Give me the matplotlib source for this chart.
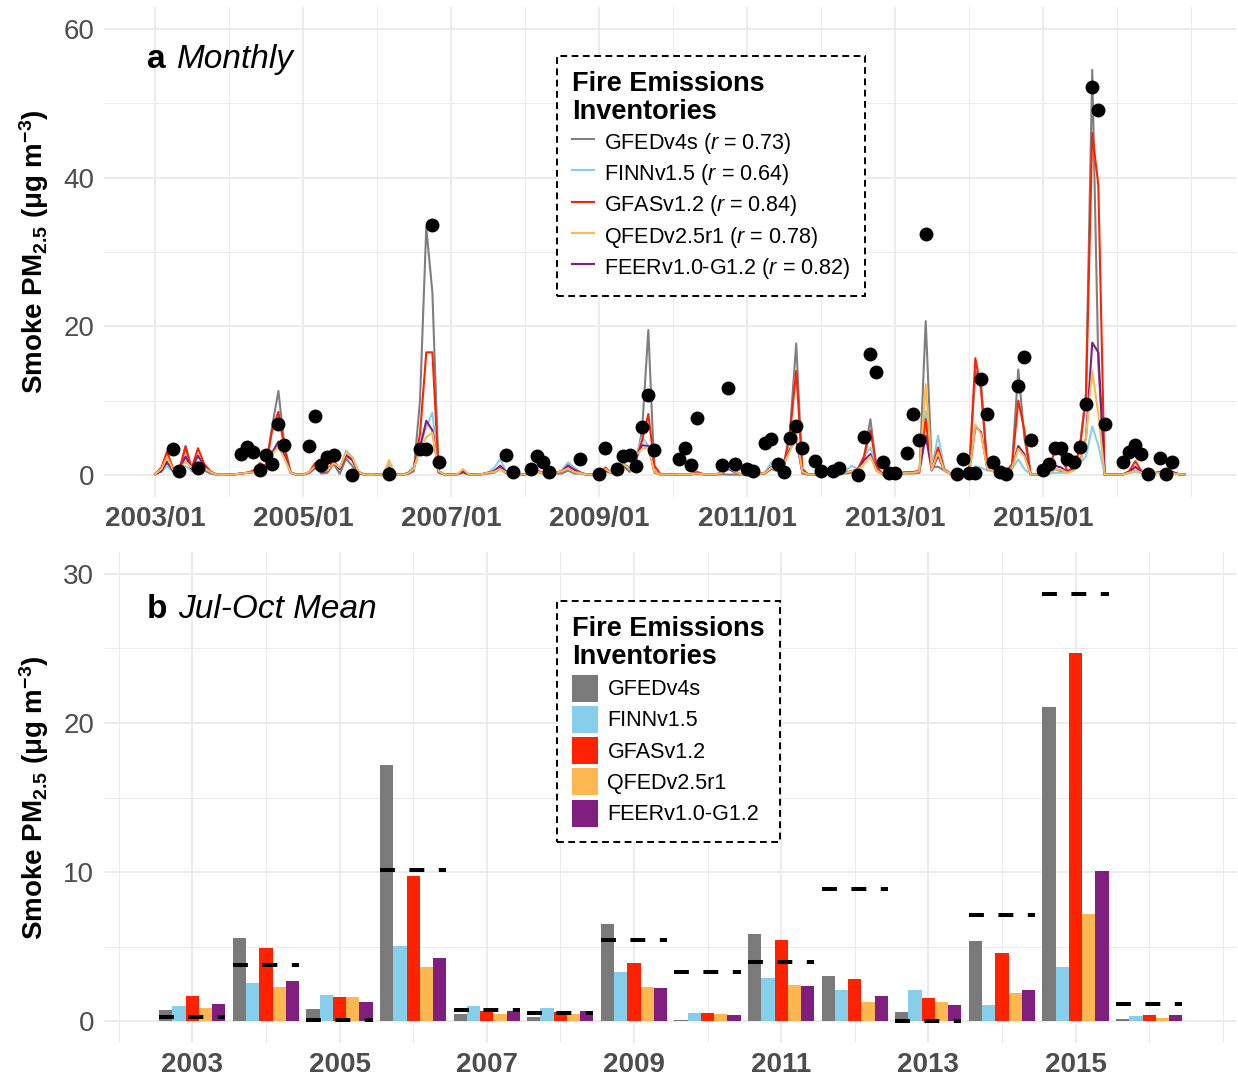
import numpy as np
import pandas as pd
import matplotlib
matplotlib.use('Agg')
import matplotlib.pyplot as plt
import matplotlib.dates as mdates

plt.rcParams['font.family'] = ['Liberation Sans', 'DejaVu Sans']
plt.rcParams['mathtext.fontset'] = 'custom'
plt.rcParams['mathtext.rm'] = 'Liberation Sans'
plt.rcParams['mathtext.it'] = 'Liberation Sans:italic'
plt.rcParams['mathtext.bf'] = 'Liberation Sans:bold'

# ---- monthly smoke PM2.5 (ug/m3), Jan 2003 .. Dec 2016, one row per year ----
gfed = [
    0.1, 0.5, 1.6, 0.5, 0.6, 3.9, 0.5, 1.6, 0.6, 0.2, 0.05, 0.02,
    0.05, 0.1, 0.2, 0.3, 0.4, 0.5, 1.0, 6.5, 11.3, 4.0, 0.3, 0.05,
    0.05, 0.3, 1.0, 0.2, 0.3, 1.5, 0.15, 2.2, 1.2, 0.2, 0.05, 0.02,
    0.05, 0.1, 0.8, 0.05, 0.05, 0.1, 0.5, 10.0, 33.3, 24.6, 0.3, 0.05,
    0.05, 0.1, 0.3, 0.05, 0.05, 0.1, 0.2, 0.3, 0.8, 0.2, 0.1, 0.1,
    0.05, 0.2, 0.4, 0.2, 0.1, 0.2, 0.2, 0.6, 0.2, 0.2, 0.05, 0.05,
    0.05, 0.5, 0.3, 0.3, 1.2, 0.4, 1.5, 6.0, 19.5, 0.3, 0.05, 0.05,
    0.05, 0.1, 0.1, 0.1, 0.1, 0.1, 0.05, 0.05, 0.1, 0.05, 0.05, 0.05,
    0.05, 0.05, 0.1, 0.2, 0.8, 0.5, 1.0, 6.0, 17.7, 0.2, 0.05, 0.05,
    0.1, 0.15, 0.2, 0.3, 0.2, 0.3, 0.4, 2.5, 7.5, 1.0, 0.1, 0.05,
    0.1, 0.2, 0.2, 0.2, 0.3, 20.7, 1.1, 1.1, 0.6, 0.2, 0.05, 0.05,
    0.05, 14.0, 12.3, 0.8, 0.6, 0.5, 0.4, 1.5, 14.2, 5.0, 0.1, 0.05,
    0.05, 0.2, 0.8, 0.5, 0.3, 0.8, 3.5, 11.0, 54.5, 15.0, 0.05, 0.05,
    0.05, 0.1, 0.3, 0.5, 0.3, 0.1, 0.2, 0.4, 0.3, 0.2, 0.1, 0.05,
]
finn = [
    0.1, 0.4, 1.2, 0.4, 0.5, 1.2, 0.6, 1.8, 1.2, 0.5, 0.05, 0.02,
    0.05, 0.1, 0.2, 0.3, 0.4, 0.6, 1.0, 3.0, 3.9, 3.0, 0.3, 0.05,
    0.05, 0.4, 1.0, 0.4, 0.5, 1.7, 0.8, 3.3, 2.4, 0.4, 0.05, 0.02,
    0.05, 0.1, 1.5, 0.05, 0.05, 0.3, 1.2, 4.0, 6.4, 8.4, 0.6, 0.05,
    0.05, 0.1, 0.4, 0.05, 0.05, 0.1, 0.3, 0.9, 2.15, 0.4, 0.1, 0.1,
    0.05, 0.3, 0.5, 0.2, 0.1, 0.3, 0.6, 1.7, 1.0, 0.35, 0.05, 0.05,
    0.05, 0.6, 0.3, 0.5, 1.7, 0.8, 2.4, 5.1, 3.9, 0.4, 0.05, 0.05,
    0.05, 0.1, 0.1, 0.1, 0.2, 0.1, 0.1, 0.1, 0.3, 1.0, 0.5, 0.05,
    0.05, 0.05, 0.1, 0.4, 1.7, 0.8, 1.5, 5.0, 4.8, 0.3, 0.05, 0.05,
    0.1, 0.15, 0.2, 0.3, 0.5, 1.25, 0.8, 2.5, 3.7, 0.8, 0.1, 0.05,
    0.2, 0.3, 0.3, 0.3, 0.5, 8.6, 0.8, 5.3, 0.9, 0.2, 0.05, 0.05,
    0.05, 1.2, 1.0, 0.6, 0.5, 0.5, 0.4, 0.8, 2.1, 0.8, 0.1, 0.05,
    0.05, 0.2, 0.3, 0.3, 0.3, 0.6, 1.5, 2.5, 6.5, 4.0, 0.05, 0.05,
    0.05, 0.1, 0.3, 0.4, 0.3, 0.1, 0.3, 0.45, 0.4, 0.3, 0.1, 0.05,
]
gfas = [
    0.1, 1.0, 3.1, 0.8, 0.7, 3.8, 0.9, 3.6, 1.5, 0.5, 0.05, 0.02,
    0.05, 0.1, 0.2, 0.3, 0.6, 1.6, 1.2, 6.0, 8.5, 3.5, 0.3, 0.05,
    0.05, 0.4, 1.6, 0.4, 0.6, 1.9, 0.8, 2.6, 2.0, 0.4, 0.05, 0.02,
    0.05, 0.1, 1.0, 0.05, 0.05, 0.2, 0.8, 5.5, 16.5, 16.5, 0.5, 0.05,
    0.05, 0.1, 0.4, 0.05, 0.05, 0.1, 0.3, 0.5, 1.0, 0.4, 0.1, 0.1,
    0.05, 0.5, 0.6, 0.3, 0.1, 0.3, 0.5, 1.0, 0.7, 0.3, 0.05, 0.05,
    0.05, 1.0, 0.3, 0.5, 1.5, 0.8, 2.0, 4.6, 8.2, 1.25, 0.05, 0.05,
    0.05, 0.1, 0.1, 0.1, 0.4, 0.1, 0.1, 0.1, 0.3, 0.9, 0.6, 0.05,
    0.05, 0.05, 0.1, 0.3, 1.0, 0.8, 1.3, 5.5, 14.0, 0.8, 0.05, 0.05,
    0.1, 0.15, 0.2, 0.3, 0.3, 0.5, 0.8, 2.5, 6.0, 1.2, 0.1, 0.05,
    0.3, 0.3, 0.4, 0.4, 0.6, 7.5, 0.7, 3.7, 0.7, 0.2, 0.05, 0.05,
    0.05, 15.7, 11.5, 1.0, 0.8, 0.7, 0.6, 1.2, 10.0, 6.0, 0.1, 0.05,
    0.05, 0.8, 3.4, 2.6, 0.5, 1.0, 3.5, 10.5, 46.0, 39.0, 0.05, 0.05,
    0.05, 0.1, 0.5, 1.85, 0.5, 0.1, 0.2, 0.4, 0.6, 0.4, 0.1, 0.05,
]
qfed = [
    0.1, 0.8, 2.4, 0.7, 0.7, 1.8, 1.0, 1.6, 1.0, 0.4, 0.05, 0.02,
    0.05, 0.1, 0.2, 0.3, 0.4, 0.6, 1.2, 2.8, 3.8, 2.2, 0.3, 0.05,
    0.05, 0.4, 1.2, 0.5, 0.6, 1.6, 1.0, 3.0, 2.4, 0.4, 0.05, 0.02,
    0.05, 0.1, 2.0, 0.05, 0.05, 0.2, 0.8, 3.5, 5.1, 5.7, 0.5, 0.05,
    0.05, 0.1, 0.8, 0.05, 0.05, 0.1, 0.3, 0.4, 0.8, 0.3, 0.1, 0.1,
    0.05, 0.3, 0.5, 0.2, 0.1, 0.3, 0.5, 0.9, 0.4, 0.25, 0.05, 0.05,
    0.05, 0.8, 0.3, 0.5, 1.5, 0.8, 2.6, 3.5, 3.7, 0.4, 0.05, 0.05,
    0.05, 0.1, 0.1, 0.1, 0.2, 0.1, 0.1, 0.1, 0.3, 1.0, 0.5, 0.05,
    0.05, 0.05, 0.1, 0.3, 1.0, 0.7, 1.5, 3.2, 5.5, 0.4, 0.05, 0.05,
    0.1, 0.15, 0.2, 0.3, 0.3, 0.5, 0.7, 1.5, 2.5, 0.6, 0.1, 0.05,
    0.2, 0.2, 0.3, 0.3, 0.5, 12.2, 0.7, 3.0, 0.6, 0.2, 0.05, 0.05,
    0.05, 6.8, 5.5, 0.8, 0.6, 0.5, 0.5, 1.0, 3.5, 2.5, 0.1, 0.05,
    0.05, 0.3, 0.8, 0.7, 0.3, 0.6, 1.5, 5.0, 14.0, 8.2, 0.05, 0.05,
    0.05, 0.1, 0.3, 0.6, 0.3, 0.1, 0.2, 0.3, 0.3, 0.2, 0.1, 0.05,
]
feer = [
    0.1, 0.5, 1.8, 0.5, 0.6, 2.5, 0.8, 2.6, 1.2, 0.4, 0.05, 0.02,
    0.05, 0.1, 0.2, 0.3, 0.4, 0.7, 1.0, 3.0, 4.5, 2.5, 0.3, 0.05,
    0.05, 0.3, 1.0, 0.4, 0.5, 1.6, 0.8, 2.8, 2.0, 0.4, 0.05, 0.02,
    0.05, 0.1, 1.0, 0.05, 0.05, 0.2, 0.8, 3.7, 7.3, 6.0, 0.4, 0.05,
    0.05, 0.1, 0.5, 0.05, 0.05, 0.1, 0.3, 0.5, 1.25, 0.4, 0.1, 0.1,
    0.05, 0.3, 0.5, 0.2, 0.1, 0.3, 0.5, 1.3, 0.7, 0.3, 0.05, 0.05,
    0.05, 0.6, 0.3, 0.4, 1.5, 0.8, 2.2, 4.0, 3.9, 0.4, 0.05, 0.05,
    0.05, 0.1, 0.1, 0.1, 0.2, 0.1, 0.1, 0.1, 0.3, 0.8, 0.4, 0.05,
    0.05, 0.05, 0.1, 0.3, 1.1, 0.7, 1.4, 3.5, 4.8, 0.3, 0.05, 0.05,
    0.1, 0.15, 0.2, 0.3, 0.3, 0.5, 0.7, 2.0, 2.8, 0.6, 0.1, 0.05,
    0.2, 0.2, 0.3, 0.3, 0.5, 5.3, 0.6, 2.6, 0.6, 0.2, 0.05, 0.05,
    0.05, 6.5, 5.8, 0.8, 0.7, 0.5, 0.5, 1.0, 3.9, 2.8, 0.1, 0.05,
    0.05, 0.4, 1.25, 1.0, 0.4, 0.7, 1.5, 5.0, 17.8, 16.5, 0.05, 0.05,
    0.05, 0.1, 0.4, 1.1, 0.4, 0.1, 0.2, 0.4, 0.7, 0.4, 0.1, 0.05,
]

# observed monthly smoke PM2.5 (black dots)
obs_month = [
    '2003-04', '2003-05', '2003-08',
    '2004-03', '2004-04', '2004-05', '2004-06', '2004-07', '2004-08', '2004-09', '2004-10',
    '2005-02', '2005-03', '2005-04', '2005-05', '2005-06', '2005-09',
    '2006-03', '2006-08', '2006-09', '2006-10', '2006-11',
    '2007-10', '2007-11',
    '2008-02', '2008-03', '2008-04', '2008-05', '2008-10',
    '2009-01', '2009-02', '2009-04', '2009-05', '2009-06', '2009-07', '2009-08', '2009-09', '2009-10',
    '2010-02', '2010-03', '2010-04', '2010-05', '2010-09', '2010-10', '2010-11',
    '2011-01', '2011-02', '2011-04', '2011-05', '2011-06', '2011-07', '2011-08', '2011-09', '2011-10', '2011-12',
    '2012-01', '2012-03', '2012-04', '2012-07', '2012-08', '2012-09', '2012-10', '2012-11', '2012-12',
    '2013-01', '2013-03', '2013-04', '2013-05', '2013-06', '2013-11', '2013-12',
    '2014-01', '2014-02', '2014-03', '2014-04', '2014-05', '2014-06', '2014-07', '2014-09', '2014-10', '2014-11',
    '2015-01', '2015-02', '2015-03', '2015-04', '2015-05', '2015-06', '2015-07', '2015-08', '2015-09', '2015-10', '2015-11',
    '2016-02', '2016-03', '2016-04', '2016-05', '2016-06', '2016-08', '2016-09', '2016-10',
]
obs_value = [
    3.5, 0.6, 0.95,
    2.85, 3.75, 3.1, 0.72, 2.65, 1.47, 6.9, 4.0,
    3.9, 8.0, 1.3, 2.45, 2.65, 0.05,
    0.15, 3.45, 3.55, 33.6, 1.7,
    2.7, 0.4,
    0.76, 2.5, 1.7, 0.4, 2.1,
    0.12, 3.6, 0.85, 2.6, 2.65, 1.25, 6.4, 10.7, 3.3,
    2.1, 3.6, 1.35, 7.7, 1.35, 11.66, 1.5,
    0.85, 0.6, 4.26, 4.9, 1.5, 0.36, 5.0, 6.6, 3.6, 1.82,
    0.56, 0.6, 1.0, 0.0, 5.1, 16.3, 13.9, 1.8, 0.27,
    0.27, 3.0, 8.2, 4.7, 32.4, 0.1, 2.15,
    0.27, 0.3, 12.9, 8.2, 1.7, 0.4, 0.15, 12.0, 15.9, 4.7,
    0.7, 1.45, 3.6, 3.6, 2.15, 1.7, 3.75, 9.6, 52.2, 49.1, 6.8,
    1.8, 3.1, 4.0, 2.85, 0.1, 2.35, 0.1, 1.75,
]

# ---- Jul-Oct means per year ----
years = np.arange(2003, 2017)
bar_gfed = [0.72, 5.57, 0.80, 17.2, 0.45, 0.27, 6.53, 0.05, 5.82, 3.04, 0.63, 5.39, 21.07, 0.11]
bar_finn = [1.03, 2.53, 1.74, 5.01, 1.03, 0.90, 3.27, 0.51, 2.86, 2.06, 2.08, 1.10, 3.65, 0.36]
bar_gfas = [1.68, 4.88, 1.59, 9.71, 0.65, 0.58, 3.89, 0.51, 5.44, 2.82, 1.54, 4.54, 24.70, 0.43]
bar_qfed = [0.90, 2.30, 1.61, 3.65, 0.47, 0.47, 2.26, 0.47, 2.42, 1.25, 1.25, 1.88, 7.18, 0.20]
bar_feer = [1.16, 2.66, 1.28, 4.25, 0.67, 0.65, 2.24, 0.38, 2.35, 1.68, 1.10, 2.08, 10.09, 0.43]
bar_obs = [0.27, 3.76, 0.05, 10.15, 0.72, 0.56, 5.46, 3.29, 3.94, 8.88, 0.03, 7.09, 28.66, 1.14]

names = ['GFEDv4s', 'FINNv1.5', 'GFASv1.2', 'QFEDv2.5r1', 'FEERv1.0-G1.2']
r_vals = ['0.73', '0.64', '0.84', '0.78', '0.82']
line_colors = ['#7F7F7F', '#87CEEB', '#FF2200', '#FDB751', '#7F1F7F']
bar_colors = ['#7A7A7A', '#87CEEB', '#FF2200', '#FDB751', '#801F7F']

grid_col = '#EBEBEB'
tick_col = '#4D4D4D'
ylab = r'Smoke PM$_{\mathbf{2.5}}$ (μg m$^{\mathbf{-3}}$)'

fig = plt.figure(figsize=(12.38, 10.78), dpi=100)
ax1 = fig.add_axes([0.0840, 0.5387, 0.9144, 0.4551])
ax2 = fig.add_axes([0.0840, 0.0321, 0.9144, 0.4562])


def style(ax):
    for s in ax.spines.values():
        s.set_visible(False)
    ax.set_axisbelow(True)
    ax.grid(which='major', color=grid_col, lw=1.4)
    ax.grid(which='minor', color=grid_col, lw=0.7)
    ax.tick_params(which='both', length=0)
    ax.tick_params(axis='y', labelsize=20, colors=tick_col, pad=7)
    ax.tick_params(axis='x', labelsize=20, colors=tick_col, pad=6)
    for lab in ax.get_xticklabels():
        lab.set_fontweight('bold')
    ax.set_ylabel(ylab, fontsize=20, fontweight='bold')
    ax.yaxis.set_label_coords(-0.047, 0.5)


def style_legend(leg):
    leg.get_frame().set_linestyle((0, (3.5, 2.3)))
    leg.get_frame().set_linewidth(1.4)
    leg.get_title().set_linespacing(1.12)


leg_kw = dict(loc='upper left', bbox_to_anchor=(0.4, 0.9), borderaxespad=0,
              title='Fire Emissions\nInventories',
              title_fontproperties={'weight': 'bold', 'size': 19.5},
              fontsize=15.5, alignment='left', fancybox=False, edgecolor='black',
              framealpha=1, borderpad=0.7, handletextpad=0.45,
              labelspacing=0.2)

# ---- panel a: monthly ----
months = pd.date_range('2003-01-01', periods=len(gfed), freq='MS')
series = [gfed, finn, gfas, qfed, feer]
handles = [None] * 5
for i in [0, 1, 2, 4, 3]:
    ln, = ax1.plot(months, series[i], color=line_colors[i], lw=1.5,
                   label=f'{names[i]} ($r$ = {r_vals[i]})')
    handles[i] = ln
ax1.scatter(pd.to_datetime(obs_month), obs_value, s=100, color='black',
            zorder=5, linewidths=0)

ax1.set_yticks([0, 20, 40, 60])
ax1.set_yticks([10, 30, 50], minor=True)
ax1.set_xticks([pd.Timestamp(f'{y}-01-01') for y in range(2003, 2016, 2)])
ax1.set_xticks([pd.Timestamp(f'{y}-01-01') for y in range(2004, 2018)], minor=True)
ax1.xaxis.set_major_formatter(mdates.DateFormatter('%Y/%m'))
d0 = mdates.date2num(pd.Timestamp('2003-01-01'))
ax1.set_xlim(d0 - 51 / 74 * 365.25, d0 + 1081 / 74 * 365.25)
ax1.set_ylim(-3, 63)
style(ax1)

t1 = ax1.text(0.038, 0.874, 'a', transform=ax1.transAxes, fontsize=24,
              fontweight='bold', va='baseline')
ax1.annotate('Monthly', xy=(1, 0), xycoords=t1, xytext=(8, 0),
             textcoords='offset points', fontsize=24, style='italic', va='bottom')

leg1 = ax1.legend(handles=handles, handlelength=1.05, handleheight=1.43, **leg_kw)
style_legend(leg1)

# ---- panel b: Jul-Oct mean ----
bars = [bar_gfed, bar_finn, bar_gfas, bar_qfed, bar_feer]
bw = 0.18
bar_handles = []
for i, vals in enumerate(bars):
    bc = ax2.bar(years + (i - 2) * bw, vals, width=bw, color=bar_colors[i],
                 label=names[i])
    bar_handles.append(bc)
for y, v in zip(years, bar_obs):
    ax2.plot([y - 0.45, y + 0.45], [v, v], color='black', lw=2.9,
             linestyle=(0, (3.7, 3.6)), dash_capstyle='butt', zorder=4)

ax2.set_yticks([0, 10, 20, 30])
ax2.set_yticks([5, 15, 25], minor=True)
ax2.set_xticks(range(2003, 2016, 2))
ax2.set_xticks(range(2002, 2018), minor=True)
ax2.set_xlim(2001.80, 2017.18)
ax2.set_ylim(-1.5, 31.5)
style(ax2)

t2 = ax2.text(0.038, 0.866, 'b', transform=ax2.transAxes, fontsize=24,
              fontweight='bold', va='baseline')
ax2.annotate('Jul-Oct Mean', xy=(1, 0), xycoords=t2, xytext=(8, 0),
             textcoords='offset points', fontsize=24, style='italic', va='bottom')

leg2 = ax2.legend(handles=bar_handles, handlelength=1.2, handleheight=1.55, **leg_kw)
style_legend(leg2)

fig.savefig('out.png', dpi=100, facecolor='white')
